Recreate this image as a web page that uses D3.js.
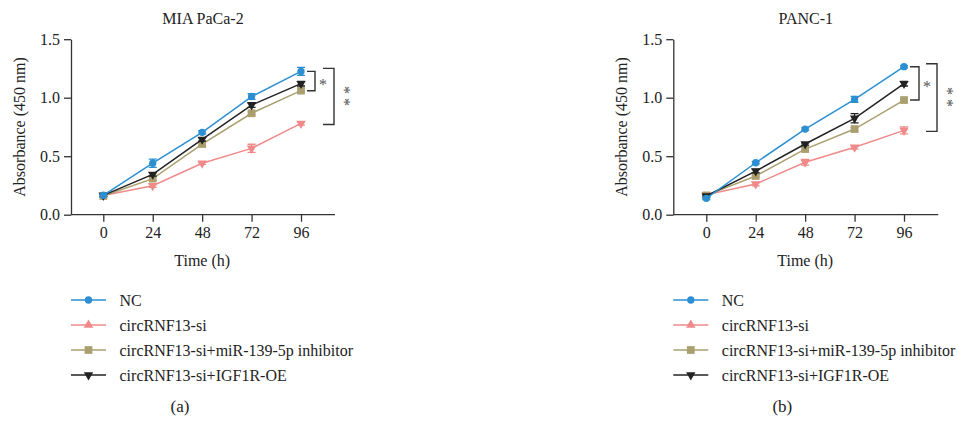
<!DOCTYPE html>
<html><head><meta charset="utf-8">
<script src="https://cdn.jsdelivr.net/npm/d3@7"></script>
<style>body{margin:0;background:#fff}svg{display:block}svg text{font-family:"Liberation Serif","DejaVu Serif",serif}</style>
</head><body><svg id="c" width="957" height="421"></svg>
<script>
const timePoints = [0, 24, 48, 72, 96];
const yTicks = [0.0, 0.5, 1.0, 1.5];
const seriesNames = ["NC", "circRNF13-si", "circRNF13-si+miR-139-5p inhibitor", "circRNF13-si+IGF1R-OE"];
const seriesColors = ["#2b8fd2", "#f08a8a", "#ab9f70", "#222222"];
// Panel (a) MIA PaCa-2
const miaNC    = [0.166, 0.44, 0.704, 1.01, 1.225];
const miaSi    = [0.165, 0.248, 0.44, 0.567, 0.78];
const miaInh   = [0.16, 0.308, 0.604, 0.867, 1.06];
const miaOE    = [0.165, 0.345, 0.644, 0.937, 1.12];
const miaNCErr  = [0.01, 0.035, 0.015, 0.025, 0.035];
const miaSiErr  = [0.01, 0.015, 0.01, 0.035, 0.015];
const miaInhErr = [0.01, 0.015, 0.015, 0.015, 0.015];
const miaOEErr  = [0.01, 0.015, 0.015, 0.02, 0.02];
// Panel (b) PANC-1
const pancNC   = [0.14, 0.444, 0.732, 0.986, 1.265];
const pancSi   = [0.17, 0.262, 0.448, 0.576, 0.721];
const pancInh  = [0.165, 0.331, 0.561, 0.732, 0.98];
const pancOE   = [0.16, 0.373, 0.604, 0.824, 1.12];
const pancNCErr  = [0.01, 0.01, 0.01, 0.025, 0.01];
const pancSiErr  = [0.01, 0.015, 0.025, 0.015, 0.03];
const pancInhErr = [0.01, 0.01, 0.01, 0.015, 0.01];
const pancOEErr  = [0.01, 0.015, 0.01, 0.04, 0.02];

const panels = [
  {title:"MIA PaCa-2", label:"(a)", x0:71, x1:335, p0:103.3, p96:301,
   vals:[miaNC, miaSi, miaInh, miaOE], errs:[miaNCErr, miaSiErr, miaInhErr, miaOEErr],
   inner:{x:315, star:323}, outer:{x:334, star:342}},
  {title:"PANC-1", label:"(b)", x0:673.3, x1:938.3, p0:706.3, p96:904,
   vals:[pancNC, pancSi, pancInh, pancOE], errs:[pancNCErr, pancSiErr, pancInhErr, pancOEErr],
   inner:{x:919, star:927}, outer:{x:937, star:945}}
];
const markerTypes = [d3.symbolCircle, d3.symbolTriangle, d3.symbolSquare, d3.symbolTriangle];
const markerSizes = [42, 40, 60, 38];
const markerRot = [0, 180, 0, 180];
const svg = d3.select("#c");
const axisColor = "#333";
const FONT = '"Liberation Serif","DejaVu Serif",serif';
function txt(g, x, y, s, size, anchor) {
  return g.append("text").attr("x", x).attr("y", y).attr("text-anchor", anchor || "start")
    .style("font-family", FONT).style("font-size", size + "px").style("fill", "#222").text(s);
}

panels.forEach(p => {
  const g = svg.append("g");
  const xs = d3.scaleLinear().domain([0, 96]).range([p.p0, p.p96]);
  const ys = d3.scaleLinear().domain([0, 1.5]).range([214.7, 39.2]);
  const ya = g.append("g").attr("transform", `translate(${p.x0},0)`)
    .call(d3.axisLeft(ys).tickValues(yTicks).tickFormat(d3.format(".1f")).tickSize(7).tickSizeOuter(0));
  ya.select(".domain").attr("stroke", axisColor).attr("stroke-width", 1.3);
  ya.selectAll(".tick line").attr("stroke", axisColor).attr("stroke-width", 1.3);
  ya.selectAll(".tick text").attr("x", -11).style("font-family", FONT).style("font-size", "16px").style("fill", "#222");
  const xa = g.append("g").attr("transform", `translate(0,214.7)`)
    .call(d3.axisBottom(xs).tickValues(timePoints).tickSize(7).tickSizeOuter(0));
  xa.select(".domain").attr("d", `M${p.x0},0H${p.x1}`).attr("stroke", axisColor).attr("stroke-width", 1.3);
  xa.selectAll(".tick line").attr("stroke", axisColor).attr("stroke-width", 1.3);
  xa.selectAll(".tick text").attr("y", 12).style("font-family", FONT).style("font-size", "16px").style("fill", "#222");
  txt(g, (p.x0 + p.x1) / 2, 24, p.title, 16, "middle");
  txt(g, (p.p0 + p.p96) / 2, 266, "Time (h)", 16, "middle");
  txt(g, 0, 0, "Absorbance (450 nm)", 16, "middle")
    .attr("transform", `translate(${p.x0 - 52},${(214.7 + 39.2) / 2}) rotate(-90)`)
    .attr("dominant-baseline", "central");
  const drawOrder = [1, 2, 3, 0];
  drawOrder.forEach(i => {
    const v = p.vals[i], e = p.errs[i], col = seriesColors[i];
    const line = d3.line().x((d, j) => xs(timePoints[j])).y(d => ys(d));
    g.append("path").attr("d", line(v)).attr("fill", "none").attr("stroke", col).attr("stroke-width", 1.5);
    v.forEach((d, j) => {
      const cx = xs(timePoints[j]);
      const ytop = ys(d + e[j]), ybot = ys(d - e[j]);
      g.append("path").attr("d", `M${cx},${ytop}V${ybot}M${cx - 4},${ytop}H${cx + 4}M${cx - 4},${ybot}H${cx + 4}`)
        .attr("stroke", col).attr("stroke-width", 1.3).attr("fill", "none");
      g.append("path").attr("d", d3.symbol().type(markerTypes[i]).size(markerSizes[i])())
        .attr("transform", `translate(${cx},${ys(d)}) rotate(${markerRot[i]})`).attr("fill", col);
    });
  });
  // significance brackets
  const top = ys(p.vals[0][4]);
  const innerBot = ys(p.vals[2][4]);
  const outerBot = ys(p.vals[1][4]);
  const bx = xs(96) + 6;
  g.append("path").attr("d", `M${bx},${top}H${p.inner.x}V${innerBot}H${bx}`)
    .attr("fill", "none").attr("stroke", axisColor).attr("stroke-width", 1.4);
  txt(g, p.inner.star, (top + innerBot) / 2 + 9, "*", 16, "middle").style("fill", "#555");
  const ox = p.outer.x - 11;
  g.append("path").attr("d", `M${ox},${top - 3}H${p.outer.x}V${outerBot + 1}H${ox}`)
    .attr("fill", "none").attr("stroke", axisColor).attr("stroke-width", 1.4);
  const mid = (top - 3 + outerBot) / 2;
  txt(g, 0, 0, "* *", 16, "middle").style("fill", "#555")
    .attr("transform", `translate(${p.outer.star - 3},${mid}) rotate(90)`);
  // legend
  const lx0 = p.x0, lx1 = p.x0 + 35, tx = p.x0 + 48.5;
  const legRot = [0, 0, 0, 180];
  seriesNames.forEach((n, i) => {
    const yy = 300 + i * 25;
    g.append("line").attr("x1", lx0).attr("x2", lx1).attr("y1", yy).attr("y2", yy).attr("stroke", seriesColors[i]).attr("stroke-width", 1.5);
    g.append("path").attr("d", d3.symbol().type(markerTypes[i]).size(markerSizes[i])())
      .attr("transform", `translate(${(lx0 + lx1) / 2},${yy}) rotate(${legRot[i]})`).attr("fill", seriesColors[i]);
    txt(g, tx, yy, n, 16).attr("dominant-baseline", "central");
  });
  txt(g, p.x0 + 109, 412, p.label, 17, "middle");
});
</script></body></html>
